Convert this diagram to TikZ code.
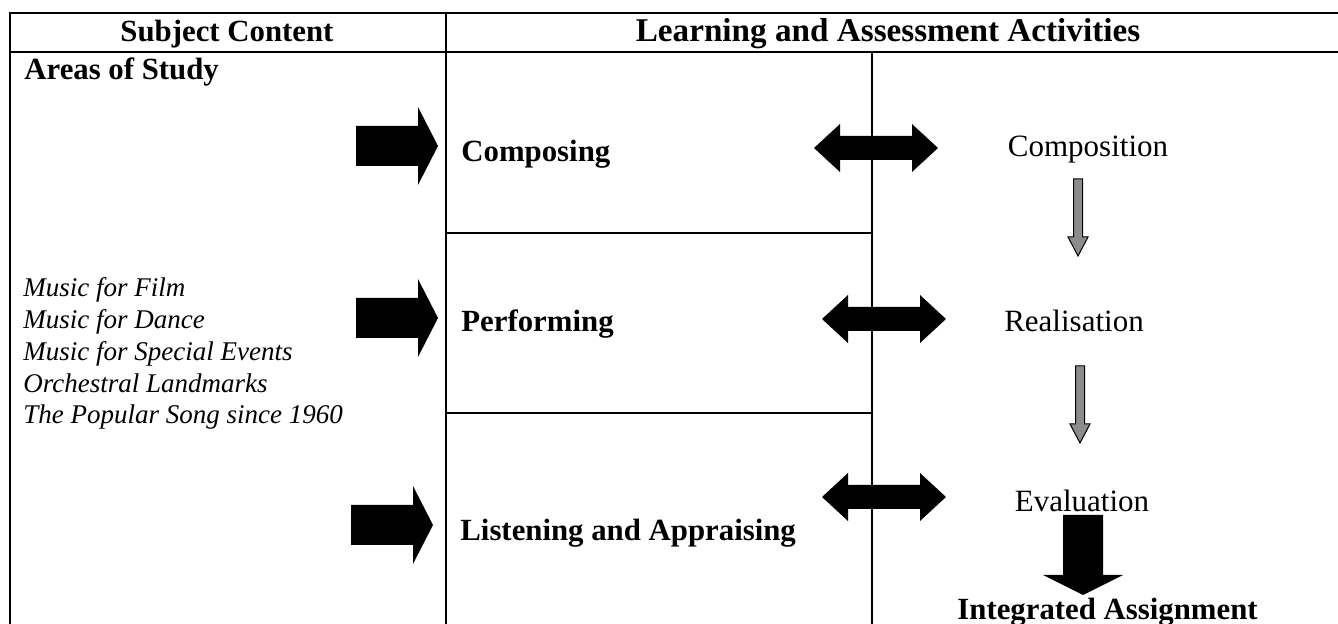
\documentclass[tikz,border=0pt]{standalone}
\usepackage{fontspec}
\setmainfont{Liberation Serif}
\usepackage{tikz}
\usetikzlibrary{positioning}

\tikzset{
	rule/.style={line width=0.9pt},
	head/.style={font=\fontsize{15.4}{18}\selectfont\bfseries, anchor=base, inner sep=0pt},
	topic/.style={font=\fontsize{15.4}{18}\selectfont\bfseries, anchor=base west, inner sep=0pt},
	stage/.style={font=\fontsize{15.5}{18}\selectfont, anchor=base, inner sep=0pt},
	area/.style={font=\fontsize{13.5}{16}\selectfont\itshape, anchor=base west, inner sep=0pt},
	rblock/.pic={\fill (0,-20) -- (62,-20) -- (62,-39) -- (82,0) -- (62,39) -- (62,20) -- (0,20) -- cycle;},
	dblock/.pic={\fill (-62,0) -- (-36,-24) -- (-36,-12) -- (36,-12) -- (36,-24) -- (62,0) -- (36,24) -- (36,12) -- (-36,12) -- (-36,24) -- cycle;},
	gblock/.pic={\filldraw[fill=black!45, draw=black, line width=0.5pt] (-4.5,0) -- (4.5,0) -- (4.5,58) -- (10,58) -- (0,77) -- (-10,58) -- (-4.5,58) -- cycle;},
	bblock/.pic={\fill (-20,0) -- (20,0) -- (20,60) -- (40,60) -- (0,80) -- (-40,60) -- (-20,60) -- cycle;},
}

\begin{document}
\begin{tikzpicture}[x=0.5pt, y=-0.5pt]
	\useasboundingbox (0,0) rectangle (1338,624);

	\draw[rule] (1338,13) -- (10,13) -- (10,624);
	\draw[rule] (10,52) -- (1338,52);
	\draw[rule] (446,13) -- (446,624);
	\draw[rule] (872,52) -- (872,624);
	\draw[rule] (446,233) -- (872,233);
	\draw[rule] (446,413) -- (872,413);

	\node[head] (subject) at (227,42) {Subject Content};
	\node[head, font=\fontsize{16.6}{18}\selectfont\bfseries] (learning) at (888,42) {Learning and Assessment Activities};
	\node[topic] (study) at (24,80) {Areas of Study};

	\foreach \txt [count=\i] in {Music for Film, Music for Dance, Music for Special Events, Orchestral Landmarks, The Popular Song since 1960}
		\node[area] (area\i) at (23, {297+31.7*(\i-1)}) {\txt};

	\node[topic] (composing) at (461,162) {Composing};
	\node[topic] (performing) at (461,332) {Performing};
	\node[topic] (listening) at (460,541) {Listening and Appraising};

	\node[stage] (composition) at (1088,157) {Composition};
	\node[stage] (realisation) at (1074,332) {Realisation};
	\node[stage] (evaluation) at (1082,512) {Evaluation};
	\node[topic] (assignment) at (957,619) {Integrated Assignment};

	\pic (in1) at (356,146) {rblock};
	\pic (in2) at (356,318) {rblock};
	\pic (in3) at (351,525) {rblock};

	\pic (link1) at (876,148) {dblock};
	\pic (link2) at (884,319) {dblock};
	\pic (link3) at (884,497) {dblock};

	\pic (step1) at (1078,179) {gblock};
	\pic (step2) at (1080,366) {gblock};
	\pic (final) at (1083,515) {bblock};

\end{tikzpicture}
\end{document}
